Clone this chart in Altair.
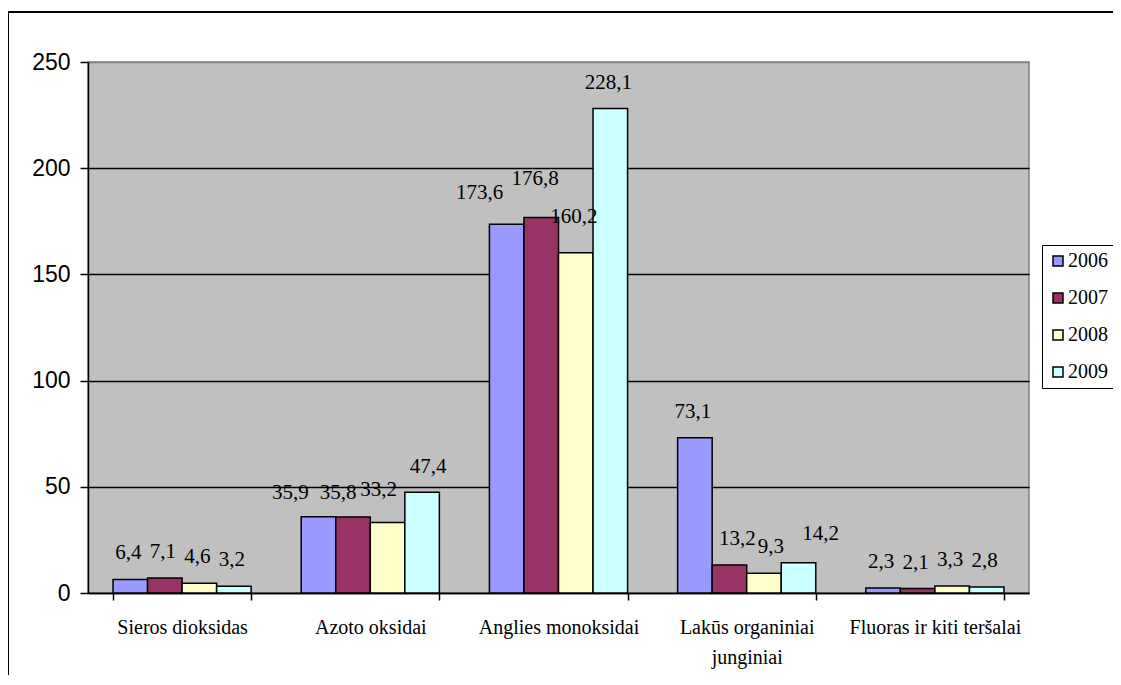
import altair as alt
import pandas as pd

categories = ["Sieros dioksidas", "Azoto oksidai", "Anglies monoksidai",
              "Lakūs organiniai junginiai", "Fluoras ir kiti teršalai"]
years = ["2006", "2007", "2008", "2009"]
v2006 = [6.4, 35.9, 173.6, 73.1, 2.3]
v2007 = [7.1, 35.8, 176.8, 13.2, 2.1]
v2008 = [4.6, 33.2, 160.2, 9.3, 3.3]
v2009 = [3.2, 47.4, 228.1, 14.2, 2.8]
colors = ["#9999FF", "#993366", "#FFFFCC", "#CCFFFF"]
y_ticks = [0, 50, 100, 150, 200, 250]

series = {"2006": v2006, "2007": v2007, "2008": v2008, "2009": v2009}
rows = []
for yr in years:
    for c, v in zip(categories, series[yr]):
        rows.append({"category": c, "year": yr, "value": v})
df = pd.DataFrame(rows)

serif = "Liberation Serif"
sans = "Liberation Sans"

# hand-dragged label placements seen in the reference (style, not data)
base_dx, base_dy = -2, -26
label_nudges = {
    ("Azoto oksidai", "2006"): (-28, -24),
    ("Azoto oksidai", "2007"): (-15, -24),
    ("Azoto oksidai", "2008"): (-9, -32),
    ("Azoto oksidai", "2009"): (6, -25),
    ("Anglies monoksidai", "2006"): (-27, -31),
    ("Anglies monoksidai", "2007"): (-6, -38),
    ("Anglies monoksidai", "2008"): (-2, -36),
    ("Lakūs organiniai junginiai", "2007"): (8, -26),
    ("Lakūs organiniai junginiai", "2008"): (7, -26),
    ("Lakūs organiniai junginiai", "2009"): (22, -29),
}

x_enc = alt.X("category:N", sort=categories,
              scale=alt.Scale(paddingInner=0.266, paddingOuter=0.133),
              axis=alt.Axis(title=None, labelAngle=0, labelFont=serif, labelFontSize=20,
                            labelColor="black", tickBand="extent", tickColor="black",
                            tickSize=7, tickWidth=1.5, domainColor="black", domainWidth=1.5,
                            labelPadding=17, labelLineHeight=30, grid=False,
                            labelExpr="datum.value == 'Lakūs organiniai junginiai' ? ['Lakūs organiniai', 'junginiai'] : datum.value"))
xo_enc = alt.XOffset("year:N", sort=years, scale=alt.Scale(paddingInner=0, paddingOuter=0))
y_enc = alt.Y("value:Q", scale=alt.Scale(domain=[0, 250], nice=False),
              axis=alt.Axis(title=None, values=y_ticks, labelFont=sans, labelFontSize=23,
                            labelColor="black", tickColor="black", tickSize=8, tickWidth=1.5,
                            domainColor="black", domainWidth=1.5, labelPadding=10,
                            grid=True, gridWidth=1.5,
                            gridColor={"condition": {"test": "datum.value == 250", "value": "#808080"},
                                       "value": "black"}))

base = alt.Chart(df).encode(x=x_enc, xOffset=xo_enc).transform_calculate(
    label="replace(format(datum.value, '.1f'), '.', ',')"
)

bars = base.mark_bar(stroke="black", strokeWidth=1.5).encode(
    y=y_enc,
    color=alt.Color("year:N", sort=years, scale=alt.Scale(domain=years, range=colors),
                    legend=alt.Legend(title=None, orient="none", legendX=954, legendY=183,
                                      labelFont=serif, labelFontSize=20, labelColor="black",
                                      symbolType="square", symbolSize=100, symbolStrokeColor="black",
                                      symbolStrokeWidth=1.5, strokeColor="black", fillColor="white",
                                      padding=6, rowPadding=17, labelOffset=0))
)

def is_item(cat, yr):
    return f"(datum.category == '{cat}' && datum.year == '{yr}')"

nudged_test = " || ".join(is_item(c, y) for (c, y) in label_nudges)
text_style = dict(font=serif, fontSize=21, color="black", baseline="middle")

label_layers = [
    base.transform_filter(f"!({nudged_test})").mark_text(dx=base_dx, dy=base_dy, **text_style)
    .encode(y="value:Q", text="label:N")
]
for (c, y), (dx, dy) in label_nudges.items():
    label_layers.append(
        base.transform_filter(is_item(c, y)).mark_text(dx=dx, dy=dy, **text_style)
        .encode(y="value:Q", text="label:N")
    )

frame = alt.Chart(alt.Data(values=[{"a": 1}])).mark_rect(
    fill="transparent", stroke="black", strokeWidth=2
).encode(x=alt.value(-80), x2=alt.value(1100), y=alt.value(-50), y2=alt.value(700))

chart = alt.layer(bars, *label_layers, frame).properties(
    width=941, height=531,
    padding={"left": 80, "top": 54, "right": 84, "bottom": 82},
    autosize=alt.AutoSizeParams(type="none"),
    background="white"
).configure_view(fill="#C0C0C0", stroke="#808080", strokeWidth=1.5)

chart.save("out.html", embed_options={"renderer": "svg", "actions": False})
